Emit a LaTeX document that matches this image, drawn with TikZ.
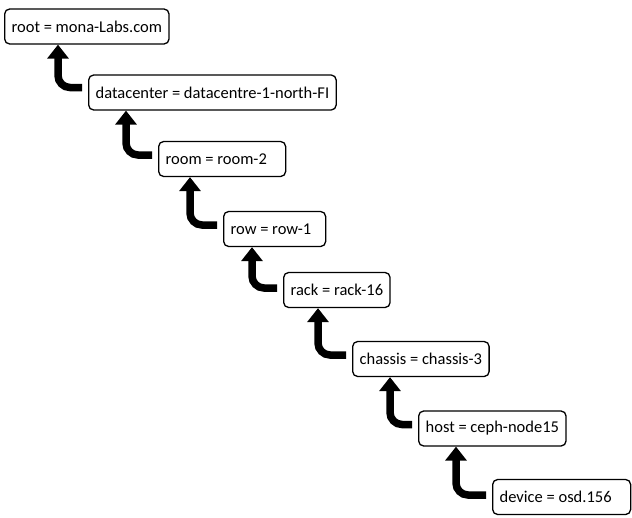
\documentclass[tikz,border=0pt]{standalone}
\usepackage{fontspec}
\setmainfont{Carlito}
\usetikzlibrary{arrows.meta}
\tikzstyle{uparrow} = [line width=7.5pt, rounded corners=12pt, shorten <=6pt, -{Triangle[width=21pt,length=14pt]}]

\begin{document}
\begin{tikzpicture}[
  x=1pt, y=-1pt,
  level/.style={draw=black, line width=1.3pt, rounded corners=5pt, anchor=west, align=flush left,
    minimum height=35pt, inner xsep=7pt, font=\fontsize{16.5}{19}\selectfont}
]
\useasboundingbox (0,0) rectangle (632,517);

\node[level] (root) at (4,26.5) {root = mona-Labs.com};
\node[level] (dc) at (88,92.5) {datacenter = datacentre-1-north-FI};
\node[level, text width=113pt] (room) at (158,159) {room = room-2};
\node[level, text width=88pt] (row) at (223,229) {row = row-1};
\node[level] (rack) at (283,290) {rack = rack-16};
\node[level] (chassis) at (352,359) {chassis = chassis-3};
\node[level] (host) at (418,428.5) {host = ceph-node15};
\node[level, text width=124pt] (device) at (492,497) {device = osd.156};

\draw[uparrow] ([yshift=5pt]dc.west) -| ([xshift=54pt]root.south west);
\draw[uparrow] ([yshift=4pt]room.west) -| ([xshift=38pt]dc.south west);
\draw[uparrow] ([yshift=4pt]row.west) -| ([xshift=32pt]room.south west);
\draw[uparrow] ([yshift=2pt]rack.west) -| ([xshift=29pt]row.south west);
\draw[uparrow] ([yshift=4pt]chassis.west) -| ([xshift=35pt]rack.south west);
\draw[uparrow] ([yshift=4pt]host.west) -| ([xshift=38pt]chassis.south west);
\draw[uparrow] ([yshift=2pt]device.west) -| ([xshift=38pt]host.south west);

\end{tikzpicture}
\end{document}
